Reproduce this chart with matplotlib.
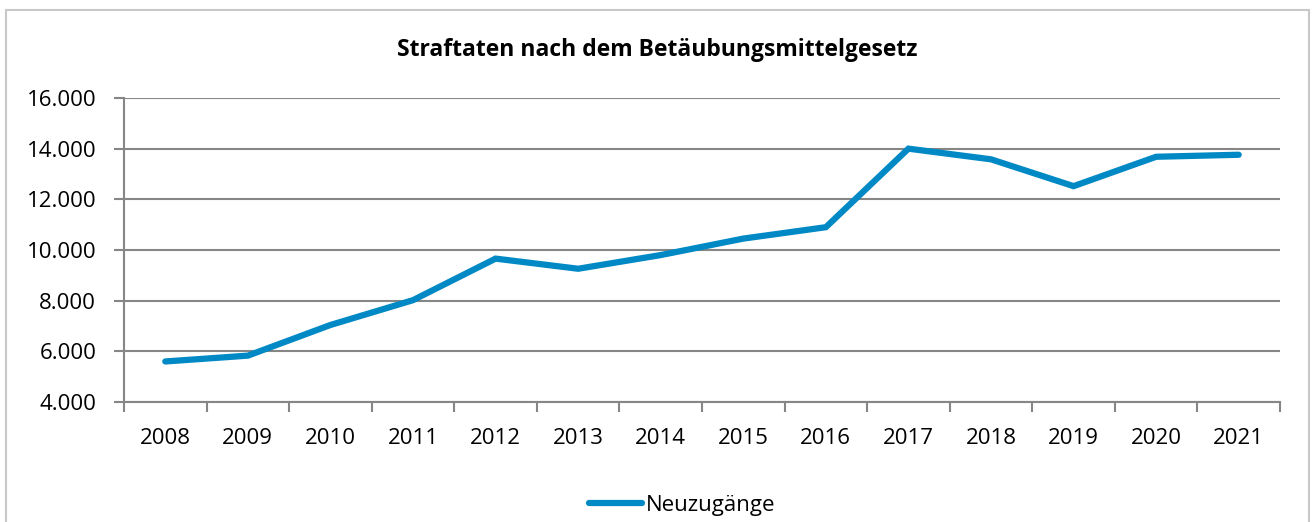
import matplotlib.pyplot as plt
import numpy as np
from matplotlib.patches import Rectangle
from matplotlib.ticker import FuncFormatter, FixedLocator

years = ["2008", "2009", "2010", "2011", "2012", "2013", "2014",
         "2015", "2016", "2017", "2018", "2019", "2020", "2021"]
neuzugaenge = [5600, 5830, 7040, 8020, 9660, 9260, 9800,
               10450, 10900, 14000, 13580, 12520, 13680, 13760]
y_ticks = [4000, 6000, 8000, 10000, 12000, 14000, 16000]

plt.rcParams["font.family"] = ["Open Sans", "DejaVu Sans"]
grey = "#868686"

fig = plt.figure(figsize=(13.12, 5.22), dpi=100)
ax = fig.add_axes([124 / 1312, 1 - 402 / 522, (1280 - 124) / 1312, (402 - 98) / 522])

x = np.arange(len(years))
ax.plot(x, neuzugaenge, color="#0089C4", linewidth=4.5, solid_capstyle="round",
        solid_joinstyle="miter", label="Neuzugänge", zorder=3)

ax.set_xlim(-0.5, len(years) - 0.5)
ax.set_ylim(4000, 16000)
ax.set_yticks(y_ticks)
ax.yaxis.set_major_formatter(FuncFormatter(lambda v, p: f"{int(v):,}".replace(",", ".")))
ax.set_xticks(x)
ax.set_xticklabels(years)
ax.xaxis.set_minor_locator(FixedLocator(np.arange(-0.5, len(years), 1.0)))

ax.grid(axis="y", color=grey, linewidth=1.5, zorder=1)
for side in ["top", "right"]:
    ax.spines[side].set_visible(False)
for side in ["left", "bottom"]:
    ax.spines[side].set_color(grey)
    ax.spines[side].set_linewidth(1.5)

ax.tick_params(axis="y", length=7, width=1.5, color=grey, labelsize=16, pad=13)
ax.tick_params(axis="x", which="major", length=0, labelsize=16, pad=19)
ax.tick_params(axis="x", which="minor", length=7, width=1.5, color=grey)

fig.text(0.501, 1 - 50 / 522, "Straftaten nach dem Betäubungsmittelgesetz",
         ha="center", va="center", fontsize=16.5, fontweight="bold")

fig.legend(loc="center", bbox_to_anchor=(0.52, 1 - 505 / 522), frameon=False,
           fontsize=16, handlelength=2.4, handletextpad=0.15)

# outer chart frame
frame = Rectangle((6 / 1312, -0.1), (1309 - 6) / 1312, 1.1 - 10 / 522,
                  transform=fig.transFigure, fill=False, edgecolor="#c8c8c8",
                  linewidth=1.5, clip_on=False)
fig.patches.append(frame)

fig.savefig("out.png", dpi=100)
